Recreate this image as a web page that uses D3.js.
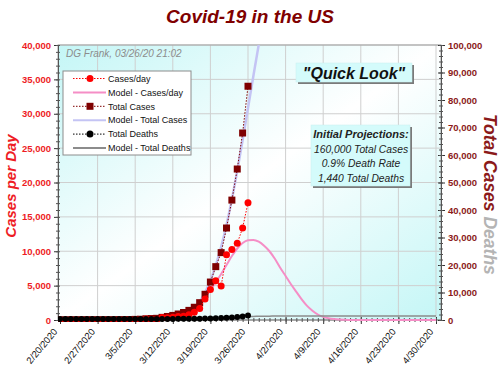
<!DOCTYPE html>
<html>
<head>
<meta charset="utf-8">
<script src="https://cdn.jsdelivr.net/npm/d3@7"></script>
<style>
  body { margin: 0; background: #fff; }
  svg { display: block; font-family: Arial, "Liberation Sans", sans-serif; }
</style>
</head>
<body>
<svg id="chart" width="500" height="370"></svg>
<script>
// observed data, 2/20 .. 3/26
const dates = ["2/20/2020","2/21/2020","2/22/2020","2/23/2020","2/24/2020","2/25/2020","2/26/2020","2/27/2020","2/28/2020","2/29/2020",
  "3/1/2020","3/2/2020","3/3/2020","3/4/2020","3/5/2020","3/6/2020","3/7/2020","3/8/2020","3/9/2020","3/10/2020",
  "3/11/2020","3/12/2020","3/13/2020","3/14/2020","3/15/2020","3/16/2020","3/17/2020","3/18/2020","3/19/2020","3/20/2020",
  "3/21/2020","3/22/2020","3/23/2020","3/24/2020","3/25/2020","3/26/2020"];
const casesPerDay = [0,0,20,0,18,0,6,1,2,8, 6,25,21,31,68,57,139,120,68,354,
  322,382,516,547,773,1133,1670,3050,4450,5700, 4950,9500,10250,11150,13400,17050];
const totalCases = [15,15,35,35,53,53,59,60,62,70, 76,101,122,153,221,278,417,537,605,959,
  1281,1663,2179,2726,3499,4632,6300,9350,13800,19400, 24500,33450,43600,54900,68000,85000];
const totalDeaths = [0,0,0,0,0,0,0,0,0,1, 1,6,9,11,12,15,19,22,26,30,
  38,41,48,57,68,86,109,150,210,260, 325,420,550,710,950,1250];

// model, 3/9 .. 4/30
const modelDates = ["3/9/2020","3/10/2020","3/11/2020","3/12/2020","3/13/2020","3/14/2020","3/15/2020","3/16/2020","3/17/2020","3/18/2020",
  "3/19/2020","3/20/2020","3/21/2020","3/22/2020","3/23/2020","3/24/2020","3/25/2020","3/26/2020","3/27/2020","3/28/2020",
  "3/29/2020","3/30/2020","3/31/2020","4/1/2020","4/2/2020","4/3/2020","4/4/2020","4/5/2020","4/6/2020","4/7/2020",
  "4/8/2020","4/9/2020","4/10/2020","4/11/2020","4/12/2020","4/13/2020","4/14/2020","4/15/2020","4/16/2020","4/17/2020",
  "4/18/2020","4/19/2020","4/20/2020","4/21/2020","4/22/2020","4/23/2020","4/24/2020","4/25/2020","4/26/2020","4/27/2020",
  "4/28/2020","4/29/2020","4/30/2020"];
const modelCasesPerDay = [50,80,150,260,420,680,1050,1600,2350,3300,
  4350,5500,6700,8000,9300,10400,11200,11600,11650,11400,
  10800,10000,8900,7600,6400,5200,4100,3000,2050,1350,
  800,450,250,130,60,25,10,0,0,0,
  0,0,0,0,0,0,0,0,0,0, 0,0,0];
// model total cases, 3/9 .. 3/30 (runs off the top)
const modelTotalCases = [130,210,360,620,1040,1720,2770,4370,6720,10020,
  14370,19870,26570,34570,43870,54270,65470,77070,88720,100120,
  110920,120920];
const modelDeathDates = ["3/26/2020","3/27/2020","3/28/2020","3/29/2020","3/30/2020","3/31/2020","4/2/2020","4/5/2020","4/30/2020"];
const modelDeaths = [1250,1300,1345,1380,1405,1420,1432,1440,1440];

const xTickLabels = ["2/20/2020","2/27/2020","3/5/2020","3/12/2020","3/19/2020","3/26/2020","4/2/2020","4/9/2020","4/16/2020","4/23/2020","4/30/2020"];
const leftTicks = [0,5000,10000,15000,20000,25000,30000,35000,40000];
const rightTicks = [0,10000,20000,30000,40000,50000,60000,70000,80000,90000,100000];

const svg = d3.select("#chart");
const L = 58, R = 441, T = 45, B = 320;
const parse = d3.utcParse("%m/%d/%Y");
const fmt = d3.format(",");

const x = d3.scaleUtc().domain([parse("2/20/2020"), parse("4/30/2020")]).range([60, 436]);
const yL = d3.scaleLinear().domain([0, 40000]).range([B, T]);
const yR = d3.scaleLinear().domain([0, 100000]).range([B, T]);

// background
const defs = svg.append("defs");
const grad = defs.append("linearGradient").attr("id", "bg")
    .attr("x1", 0).attr("y1", 0).attr("x2", 1).attr("y2", 1);
grad.append("stop").attr("offset", 0).attr("stop-color", "#c4f6f6");
grad.append("stop").attr("offset", 0.5).attr("stop-color", "#ffffff");
grad.append("stop").attr("offset", 1).attr("stop-color", "#c4f6f6");
defs.append("clipPath").attr("id", "clip")
    .append("rect").attr("x", L).attr("y", T).attr("width", R - L).attr("height", B - T + 2);

svg.append("rect").attr("x", L).attr("y", T).attr("width", R - L).attr("height", B - T)
    .attr("fill", "url(#bg)");

// gridlines
const xTicks = xTickLabels.map(parse);
svg.append("g").selectAll("line").data(xTicks.slice(1)).join("line")
    .attr("x1", d => x(d)).attr("x2", d => x(d)).attr("y1", T).attr("y2", B)
    .attr("stroke", "#cfcfcf").attr("stroke-width", 1);
svg.append("g").selectAll("line").data(leftTicks.slice(1)).join("line")
    .attr("x1", L).attr("x2", R).attr("y1", d => yL(d)).attr("y2", d => yL(d))
    .attr("stroke", "#cfcfcf").attr("stroke-width", 1);
svg.append("rect").attr("x", L).attr("y", T).attr("width", R - L).attr("height", B - T)
    .attr("fill", "none").attr("stroke", "#a0a0a0");

// axes
const xAxis = svg.append("g").attr("transform", `translate(0,${B})`)
    .call(d3.axisBottom(x).tickValues(xTicks).tickSize(4).tickFormat(""));
xAxis.select(".domain").attr("stroke", "#808080").attr("d", `M${L},0H${R}`);
const xMinor = svg.append("g").attr("transform", `translate(0,${B - 2})`)
    .call(d3.axisBottom(x).tickValues(d3.utcDay.range(parse("2/20/2020"), parse("5/1/2020"))).tickSize(4).tickFormat(""));
xMinor.select(".domain").remove();
xMinor.selectAll("line").attr("stroke", "#555");
xAxis.selectAll("line").attr("stroke", "#333").attr("y1", -3);

svg.append("g").selectAll("text").data(xTicks).join("text")
    .attr("transform", d => `translate(${x(d) - 2},${B + 12}) rotate(-50)`)
    .attr("text-anchor", "end").attr("font-size", 9.5).attr("fill", "#111")
    .text((d, i) => xTickLabels[i]);

const lAxis = svg.append("g").attr("transform", `translate(${L},0)`)
    .call(d3.axisLeft(yL).tickValues(leftTicks).tickSize(4).tickFormat(fmt).tickPadding(3));
lAxis.select(".domain").attr("stroke", "#555");
lAxis.selectAll("line").attr("stroke", "#333");
lAxis.selectAll("text").attr("fill", "#ee1c25").attr("font-weight", "bold").attr("font-size", 9.5)
    .attr("font-family", "Arial, 'Liberation Sans', sans-serif");
const lMinor = svg.append("g").attr("transform", `translate(${L + 2},0)`)
    .call(d3.axisLeft(yL).tickValues(d3.range(0, 40001, 1000)).tickSize(4).tickFormat(""));
lMinor.select(".domain").remove();
lMinor.selectAll("line").attr("stroke", "#555");

const rAxis = svg.append("g").attr("transform", `translate(${R},0)`)
    .call(d3.axisRight(yR).tickValues(rightTicks).tickSize(4).tickFormat(fmt).tickPadding(3));
rAxis.select(".domain").attr("stroke", "#555");
rAxis.selectAll("line").attr("stroke", "#333").attr("x1", -3);
rAxis.selectAll("text").attr("fill", "#8b1a1a").attr("font-weight", "bold").attr("font-size", 9.5)
    .attr("font-family", "Arial, 'Liberation Sans', sans-serif");
const rMinor = svg.append("g").attr("transform", `translate(${R - 2},0)`)
    .call(d3.axisRight(yR).tickValues(d3.range(0, 100001, 2000)).tickSize(4).tickFormat(""));
rMinor.select(".domain").remove();
rMinor.selectAll("line").attr("stroke", "#555");

// series
const plot = svg.append("g").attr("clip-path", "url(#clip)");
const obs = dates.map((d, i) => ({ date: parse(d), daily: casesPerDay[i], total: totalCases[i], deaths: totalDeaths[i] }));
const mod = modelDates.map((d, i) => ({ date: parse(d), daily: modelCasesPerDay[i], total: modelTotalCases[i] }));
const modDeaths = modelDeathDates.map((d, i) => ({ date: parse(d), v: modelDeaths[i] }));

const line = (fx, fy) => d3.line().x(fx).y(fy);

plot.append("path").datum(mod).attr("fill", "none").attr("stroke", "#f58ec6").attr("stroke-width", 2)
    .attr("d", line(d => x(d.date), d => yL(d.daily)).curve(d3.curveMonotoneX));
plot.append("path").datum(mod.filter(d => d.total !== undefined)).attr("fill", "none")
    .attr("stroke", "#c4c4f4").attr("stroke-width", 2.5)
    .attr("d", line(d => x(d.date), d => yR(d.total)).curve(d3.curveMonotoneX));
plot.append("path").datum(modDeaths).attr("fill", "none").attr("stroke", "#8c8c8c").attr("stroke-width", 1.5)
    .attr("d", line(d => x(d.date), d => yR(d.v)).curve(d3.curveMonotoneX));

plot.append("path").datum(obs).attr("fill", "none").attr("stroke", "#800000").attr("stroke-width", 1)
    .attr("stroke-dasharray", "1.5,1.5").attr("d", line(d => x(d.date), d => yR(d.total)));
plot.append("g").selectAll("rect").data(obs).join("rect")
    .attr("x", d => x(d.date) - 3.5).attr("y", d => yR(d.total) - 3.5)
    .attr("width", 7).attr("height", 7).attr("fill", "#7f0000");

plot.append("path").datum(obs).attr("fill", "none").attr("stroke", "#ff0000").attr("stroke-width", 1)
    .attr("stroke-dasharray", "1.5,1.5").attr("d", line(d => x(d.date), d => yL(d.daily)));
plot.append("g").selectAll("circle").data(obs).join("circle")
    .attr("cx", d => x(d.date)).attr("cy", d => yL(d.daily)).attr("r", 3.5).attr("fill", "#ff0000");

plot.append("path").datum(obs).attr("fill", "none").attr("stroke", "#000").attr("stroke-width", 1)
    .attr("stroke-dasharray", "1.5,1.5").attr("d", line(d => x(d.date), d => yR(d.deaths)));
plot.append("g").selectAll("circle").data(obs).join("circle")
    .attr("cx", d => x(d.date)).attr("cy", d => yR(d.deaths) - 1).attr("r", 3).attr("fill", "#000");

// title & notes
svg.append("text").attr("x", 250).attr("y", 23).attr("text-anchor", "middle")
    .attr("font-size", 19).attr("font-weight", "bold").attr("font-style", "italic").attr("fill", "#800000")
    .text("Covid-19 in the US");
svg.append("text").attr("x", 66).attr("y", 57).attr("font-size", 10).attr("font-style", "italic")
    .attr("fill", "#8c8c8c").text("DG Frank, 03/26/20 21:02");

// legend
const legendItems = [
  { name: "Cases/day", color: "#ff0000", dash: "1.5,1.5", w: 1, mark: "circle" },
  { name: "Model - Cases/day", color: "#f58ec6", dash: null, w: 2, mark: null },
  { name: "Total Cases", color: "#7f0000", dash: "1.5,1.5", w: 1, mark: "square" },
  { name: "Model - Total Cases", color: "#c4c4f4", dash: null, w: 2, mark: null },
  { name: "Total Deaths", color: "#000", dash: "1.5,1.5", w: 1, mark: "circle" },
  { name: "Model - Total Deaths", color: "#8c8c8c", dash: null, w: 2, mark: null }
];
const lg = svg.append("g");
lg.append("rect").attr("x", 63).attr("y", 71).attr("width", 128).attr("height", 84)
    .attr("fill", "#fff").attr("stroke", "#8c8c8c");
legendItems.forEach((it, i) => {
  const yy = 78.5 + i * 13.9;
  lg.append("line").attr("x1", 73).attr("x2", 106).attr("y1", yy).attr("y2", yy)
    .attr("stroke", it.color).attr("stroke-width", it.w).attr("stroke-dasharray", it.dash);
  if (it.mark === "circle") lg.append("circle").attr("cx", 90).attr("cy", yy).attr("r", 3.5).attr("fill", it.color);
  if (it.mark === "square") lg.append("rect").attr("x", 86.5).attr("y", yy - 3.5).attr("width", 7).attr("height", 7).attr("fill", it.color);
  lg.append("text").attr("x", 108).attr("y", yy + 3.2).attr("font-size", 9).attr("fill", "#111").text(it.name);
});

// boxes
function box(x0, y0, w, h) {
  svg.append("rect").attr("x", x0 + 2).attr("y", y0 + 2).attr("width", w).attr("height", h).attr("fill", "#7a7a7a");
  svg.append("rect").attr("x", x0).attr("y", y0).attr("width", w).attr("height", h)
      .attr("fill", "#d4fbfb").attr("stroke", "#c8eeee").attr("stroke-width", 0.5);
}
box(296, 63, 116, 19);
svg.append("text").attr("x", 354).attr("y", 78.5).attr("text-anchor", "middle")
    .attr("font-size", 16).attr("font-weight", "bold").attr("font-style", "italic").attr("fill", "#111")
    .text("\"Quick Look\"");
box(311, 125, 99, 61);
const projLines = ["Initial Projections:", "160,000 Total Cases", "0.9% Death Rate", "1,440 Total Deaths"];
projLines.forEach((t, i) => {
  svg.append("text").attr("x", 361).attr("y", 138 + i * 14.6).attr("text-anchor", "middle")
    .attr("font-size", i === 0 ? 11 : 10.3).attr("font-weight", i === 0 ? "bold" : "normal")
    .attr("font-style", "italic").attr("fill", "#222").text(t);
});

// axis titles
svg.append("text").attr("transform", "translate(16,186) rotate(-90)").attr("text-anchor", "middle")
    .attr("font-size", 15).attr("font-weight", "bold").attr("font-style", "italic").attr("fill", "#ee1c25")
    .text("Cases per Day");
const rt = svg.append("text").attr("transform", "translate(484,114) rotate(90)")
    .attr("font-size", 17.5).attr("font-weight", "bold").attr("font-style", "italic");
rt.append("tspan").attr("fill", "#8b1a1a").text("Total Cases ");
rt.append("tspan").attr("fill", "#b4b4b4").text("Deaths");
</script>
</body>
</html>
